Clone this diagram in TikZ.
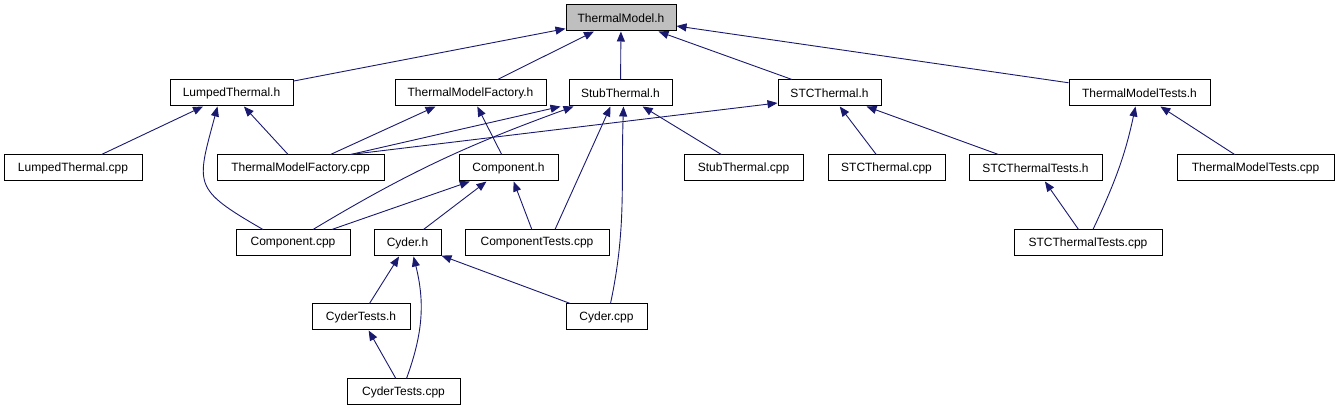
\documentclass[tikz,border=0pt]{standalone}
\usepackage{fontspec}
\setmainfont{Liberation Sans}
\usetikzlibrary{arrows.meta}
\definecolor{edgeblue}{HTML}{191970}
\definecolor{rootfill}{HTML}{BFBFBF}
\tikzset{
  file/.style={draw=black, line width=1pt, fill=white, minimum height=26pt, inner sep=0pt, font=\fontsize{12}{14}\selectfont},
  rootfile/.style={file, fill=rootfill},
  dep/.style={-{Triangle[length=10pt,width=8pt]}, line width=0.9pt, draw=edgeblue}
}

\begin{document}
\begin{tikzpicture}[x=1pt, y=-1pt]
\useasboundingbox (0,0) rectangle (1339,411);
% headers
\node[rootfile, minimum width=110pt] (tm) at (621,18) {ThermalModel.h};
\node[file, minimum width=123pt] (lth) at (231.5,93) {LumpedThermal.h};
\node[file, minimum width=151pt] (tmfh) at (470.5,93) {ThermalModelFactory.h};
\node[file, minimum width=103pt] (sth) at (620.5,93) {StubThermal.h};
\node[file, minimum width=103pt] (stch) at (829.5,93) {STCThermal.h};
\node[file, minimum width=141pt] (tmth) at (1139.5,93) {ThermalModelTests.h};
\node[file, minimum width=138pt] (ltc) at (73,168) {LumpedThermal.cpp};
\node[file, minimum width=167pt] (tmfc) at (300.5,168) {ThermalModelFactory.cpp};
\node[file, minimum width=99pt] (comph) at (508.5,168) {Component.h};
\node[file, minimum width=119pt] (stc) at (743.5,168) {StubThermal.cpp};
\node[file, minimum width=117pt] (stcc) at (886.5,168) {STCThermal.cpp};
\node[file, minimum width=133pt] (stcth) at (1035.5,168) {STCThermalTests.h};
\node[file, minimum width=157pt] (tmtc) at (1255.5,168) {ThermalModelTests.cpp};
\node[file, minimum width=114pt] (compc) at (293,243) {Component.cpp};
\node[file, minimum width=67pt] (cyh) at (407.5,243) {Cyder.h};
\node[file, minimum width=144pt] (comptc) at (537,243) {ComponentTests.cpp};
\node[file, minimum width=148pt] (stcttc) at (1088,243) {STCThermalTests.cpp};
\node[file, minimum width=98pt] (cyth) at (361,317) {CyderTests.h};
\node[file, minimum width=81pt] (cyc) at (606.5,317) {Cyder.cpp};
\node[file, minimum width=113pt] (cytc) at (403.5,392) {CyderTests.cpp};
% includes
\draw[dep] (lth) -- (tm);
\draw[dep] (tmfh) -- (tm);
\draw[dep] (sth) -- (tm);
\draw[dep] (stch) -- (tm);
\draw[dep] (tmth) -- (tm);
\draw[dep] (ltc) -- (lth);
\draw[dep] (tmfc) -- (lth);
\draw[dep] ([xshift=-30]compc.north) to[out=150,in=255,looseness=1.6] ([xshift=-14]lth.south);
\draw[dep] ([xshift=30]tmfc.north) -- ([xshift=-35]tmfh.south);
\draw[dep] ([xshift=50]tmfc.north) -- ([xshift=-60]sth.south);
\draw[dep] ([xshift=50]tmfc.north) -- ([yshift=-10]stch.west);
\draw[dep] ([xshift=20]compc.north) to[out=31,in=200] ([xshift=-47]sth.south);
\draw[dep] ([xshift=18]comptc.north) -- ([xshift=-10]sth.south);
\draw[dep] ([xshift=4]cyc.north) to[out=78,in=268] ([xshift=3]sth.south);
\draw[dep] (stc) -- (sth);
\draw[dep] (stcc) -- (stch);
\draw[dep] (stcth) -- (stch);
\draw[dep] (tmtc) -- (tmth);
\draw[dep] ([xshift=5]stcttc.north) to[out=65,in=258] ([xshift=-4]tmth.south);
\draw[dep] (stcttc) -- (stcth);
\draw[dep] (comph) -- (tmfh);
\draw[dep] (compc) -- (comph);
\draw[dep] ([xshift=16]cyh.north) -- ([xshift=-22]comph.south);
\draw[dep] (comptc) -- (comph);
\draw[dep] (cyth) -- (cyh);
\draw[dep] ([xshift=3]cytc.north) to[out=70,in=284] ([xshift=6]cyh.south);
\draw[dep] (cyc) -- (cyh);
\draw[dep] (cytc) -- (cyth);
\end{tikzpicture}
\end{document}
